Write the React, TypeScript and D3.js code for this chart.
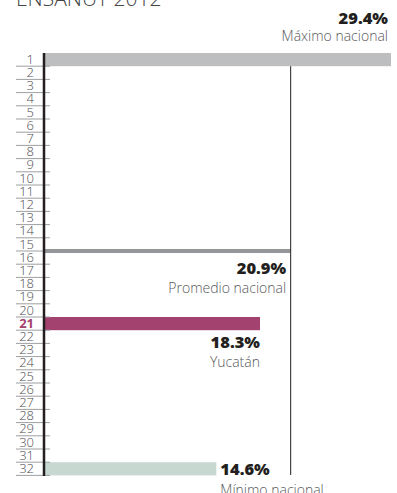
import React from "react";
import * as d3 from "d3";

const title = "ENSANUT 2012";
const ranks: number[] = d3.range(1, 33);
const highlightRank = 21;
const maxValue = 29.4;
const avgValue = 20.9;
const yucValue = 18.3;
const minValue = 14.6;
const maxLabel = "Máximo nacional";
const avgLabel = "Promedio nacional";
const yucLabel = "Yucatán";
const minLabel = "Mínimo nacional";
const avgAfterRank = 15;

const W = 397;
const H = 493;
const FONT = "'Open Sans', 'Noto Sans', sans-serif";

export default function App() {
  const x = d3.scaleLinear().domain([0, maxValue]).range([44, 391]);
  const y = d3.scaleBand<number>().domain(ranks).range([53, 475.4]).padding(0);
  const bw = y.bandwidth();
  const x0 = x(0);
  const avgY = (y(avgAfterRank) as number) + bw;
  const fmt = (v: number) => `${v.toFixed(1)}%`;
  const yucTop = y(highlightRank) as number;
  const minTop = y(32) as number;

  return (
    <svg width={W} height={H} style={{ position: "absolute", left: 0, top: 0, background: "#fff" }}>
      <text x={16} y={6} fontFamily={FONT} fontWeight={300} fontSize={21} fill="#444">
        {title}
      </text>

      {/* max bar */}
      <rect x={x0} y={y(1)} width={x(maxValue) - x0} height={bw} fill="#bcbec0" />
      {/* yucatan bar */}
      <rect x={x0} y={yucTop} width={x(yucValue) - x0} height={bw} fill="#a3416f" />
      {/* min bar */}
      <rect x={x0} y={minTop} width={x(minValue) - x0} height={bw} fill="#c7d8d1" />

      {/* row separators and labels */}
      {ranks.map((r) => (
        <g key={r}>
          <line x1={16} x2={50} y1={(y(r) as number) + bw} y2={(y(r) as number) + bw} stroke="#9d9fa2" strokeWidth={1} />
          <text
            x={34}
            y={(y(r) as number) + bw - 2.5}
            textAnchor="end"
            fontFamily={FONT}
            fontWeight={r === highlightRank ? 700 : 300}
            fontSize={13}
            fill={r === highlightRank ? "#a3416f" : "#4d4d4f"}
          >
            {r}
          </text>
        </g>
      ))}

      {/* average line */}
      <rect x={x0} y={avgY - 2} width={x(avgValue) - x0} height={4} fill="#939598" />
      {/* average vertical */}
      <line x1={x(avgValue)} x2={x(avgValue)} y1={(y(1) as number) + bw} y2={475} stroke="#231f20" strokeWidth={1} />

      {/* axis */}
      <line x1={x0} x2={x0} y1={y(1) as number} y2={476} stroke="#231f20" strokeWidth={2.5} />

      {/* labels */}
      <text x={388} y={23.5} textAnchor="end" fontFamily={FONT} fontWeight={800} fontSize={16.5} fill="#231f20">
        {fmt(maxValue)}
      </text>
      <text x={388} y={41} textAnchor="end" fontFamily={FONT} fontWeight={300} fontSize={14} fill="#58595b">
        {maxLabel}
      </text>

      <text x={x(avgValue) - 4.5} y={274} textAnchor="end" fontFamily={FONT} fontWeight={800} fontSize={16.5} fill="#231f20">
        {fmt(avgValue)}
      </text>
      <text x={x(avgValue) - 4.5} y={293} textAnchor="end" fontFamily={FONT} fontWeight={300} fontSize={14} fill="#58595b">
        {avgLabel}
      </text>

      <text x={x(yucValue)} y={348} textAnchor="end" fontFamily={FONT} fontWeight={800} fontSize={16.5} fill="#231f20">
        {fmt(yucValue)}
      </text>
      <text x={x(yucValue)} y={367} textAnchor="end" fontFamily={FONT} fontWeight={300} fontSize={14} fill="#58595b">
        {yucLabel}
      </text>

      <text x={x(minValue) + 4} y={475} textAnchor="start" fontFamily={FONT} fontWeight={800} fontSize={16.5} fill="#231f20">
        {fmt(minValue)}
      </text>
      <text x={x(minValue) + 4} y={495} textAnchor="start" fontFamily={FONT} fontWeight={300} fontSize={14} fill="#58595b">
        {minLabel}
      </text>
    </svg>
  );
}
